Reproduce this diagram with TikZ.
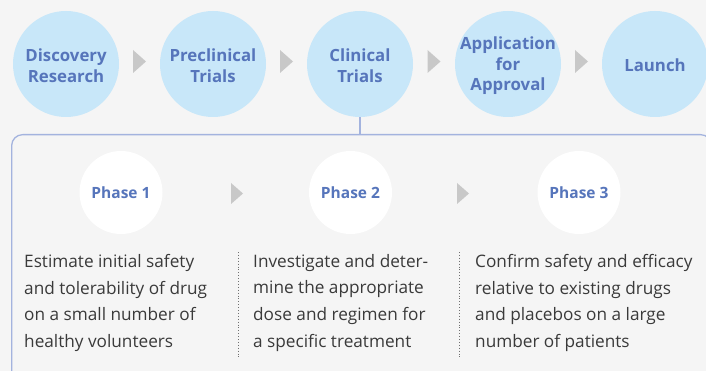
\documentclass[tikz,border=0pt]{standalone}
\usepackage{fontspec}
\setmainfont{Open Sans}
\begin{document}
\definecolor{pagebg}{HTML}{F5F5F5}
\definecolor{stagefill}{HTML}{C8E7F9}
\definecolor{stagetext}{HTML}{5675BB}
\definecolor{chevron}{HTML}{C8C8C8}
\definecolor{frame}{HTML}{A3B3DE}
\definecolor{bodytext}{HTML}{3A3A3A}
\definecolor{divider}{HTML}{707070}
\begin{tikzpicture}[x=1pt,y=-1pt,
  stage/.style={circle,fill=stagefill,minimum size=106pt,inner sep=0pt},
  stagelabel/.style={align=center,text=stagetext,inner sep=0pt,
    font=\fontsize{16.8}{20.5}\selectfont\bfseries},
  phase/.style={circle,fill=white,minimum size=83pt,inner sep=0pt},
  phaselabel/.style={text=stagetext,inner sep=0pt,
    font=\fontsize{15.5}{18}\selectfont\bfseries},
  desc/.style={align=left,anchor=north west,inner sep=0pt,text=bodytext,
    font=\fontsize{17.2}{26.7}\selectfont},
  chev/.style={fill=chevron},
  sep/.style={draw=divider,line width=0.9pt,dotted}]
\useasboundingbox (0,0) rectangle (706,371);
\fill[pagebg] (0,0) rectangle (706,371);
\clip (0,0) rectangle (706,371);

% top row of stages
\node[stage] (s1) at (66,64) {};
\node[stage] (s2) at (213,64) {};
\node[stage] (s3) at (360,64) {};
\node[stage] (s4) at (508,64) {};
\node[stage] (s5) at (655,64) {};
\node[stagelabel] (t1) at ([yshift=-1.5pt]s1) {Discovery\\Research};
\node[stagelabel] (t2) at ([yshift=-1.5pt]s2) {Preclinical\\Trials};
\node[stagelabel] (t3) at ([yshift=-1.5pt]s3) {Clinical\\Trials};
\node[stagelabel] (t4) at ([yshift=-2pt]s4) {Application\\for\\Approval};
\node[stagelabel] (t5) at ([yshift=-1.5pt]s5) {Launch};

% chevrons between stages
\foreach \cx in {139.5,286.5,434,581.5}{
  \fill[chev] (\cx-6.5,50) -- (\cx+6.5,61.5) -- (\cx-6.5,73) -- cycle;
}

% frame holding the clinical phases
\node[draw=frame,line width=1.3pt,rounded corners=11pt,fill=pagebg,
  minimum width=700pt,minimum height=260pt,anchor=north west,inner sep=0pt]
  (box) at (11,134) {};
\draw[draw=frame,line width=1.3pt] (s3.south) -- (s3.south |- box.north);

% phases
\node[phase] (p1) at (121,192.5) {};
\node[phase] (p2) at (350.5,192.5) {};
\node[phase] (p3) at (579,192.5) {};
\node[phaselabel] (q1) at (p1) {Phase 1};
\node[phaselabel] (q2) at (p2) {Phase 2};
\node[phaselabel] (q3) at (p3) {Phase 3};
\foreach \cx in {237,463}{
  \fill[chev] (\cx-6,183) -- (\cx+6,193.5) -- (\cx-6,204) -- cycle;
}

% descriptions
\node[desc] (d1) at (24,254) {Estimate initial safety\\and tolerability of drug\\on a small number of\\healthy volunteers};
\node[desc] (d2) at (253,254) {Investigate and deter-\\mine the appropriate\\dose and regimen for\\a specific treatment};
\node[desc] (d3) at (475,254) {Confirm safety and efficacy\\relative to existing drugs\\and placebos on a large\\number of patients};
\draw[sep] (238,252) -- (238,357);
\draw[sep] (459,252) -- (459,357);
\end{tikzpicture}
\end{document}
